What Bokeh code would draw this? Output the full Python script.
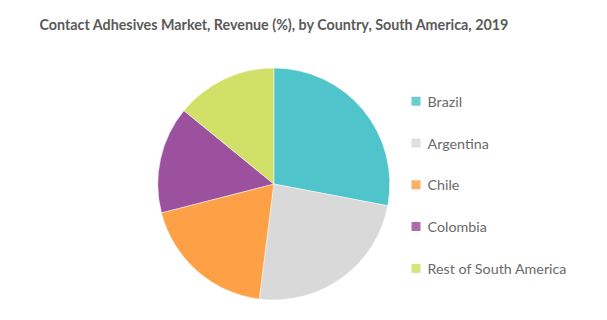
import numpy as np
from bokeh.plotting import figure
from bokeh.models import ColumnDataSource, Range1d
from bokeh.core.properties import value
from bokeh.embed import file_html
from bokeh.resources import INLINE

title = "Contact Adhesives Market, Revenue (%), by Country, South America, 2019"
countries = ["Brazil", "Argentina", "Chile", "Colombia", "Rest of South America"]
shares = [28.0, 24.0, 19.0, 14.9, 14.1]
colors = ["#4FC4CA", "#D9D9D9", "#FDA046", "#9C519E", "#D1E067"]

W, H = 607, 320
p = figure(width=W, height=H, output_backend="svg", toolbar_location=None,
           x_range=Range1d(0, W), y_range=Range1d(0, H), min_border=0,
           tools="")
p.axis.visible = False
p.grid.visible = False
p.outline_line_color = None
p.background_fill_color = "white"
p.border_fill_color = "white"

vals = np.array(shares, dtype=float)
frac = vals / vals.sum()
cum = np.concatenate([[0], np.cumsum(frac)])
start = np.pi / 2 - cum[:-1] * 2 * np.pi
end = np.pi / 2 - cum[1:] * 2 * np.pi

cx, cy, r = 273.3, H - 183.5, 116
src = ColumnDataSource(dict(start=start, end=end, color=colors, name=countries))
p.wedge(x=cx, y=cy, radius=r, start_angle="start", end_angle="end",
        direction="clock", fill_color="color", line_color="white", line_width=0.5,
        source=src)

# legend
ly = [H - (100.7 + i * 41.8) for i in range(len(countries))]
lsrc = ColumnDataSource(dict(x=[415.5] * len(countries), y=ly, color=colors,
                             tx=[427] * len(countries), name=countries))
p.rect(x="x", y="y", width=9, height=9, fill_color="color", line_color=None,
       fill_alpha=0.85, source=lsrc)
p.text(x="tx", y="y", text="name", source=lsrc, text_font=value("Lato"),
       text_font_size="14.3px", text_color="#6a6a6a", text_baseline="middle",
       text_align="left")

p.text(x=[39], y=[H - 24], text=[title], text_font=value("Lato"),
       text_font_size="14.3px", text_font_style="bold", text_color="#5a5a5a",
       text_baseline="middle", text_align="left")

open("out.html", "w").write(file_html(p, INLINE))
